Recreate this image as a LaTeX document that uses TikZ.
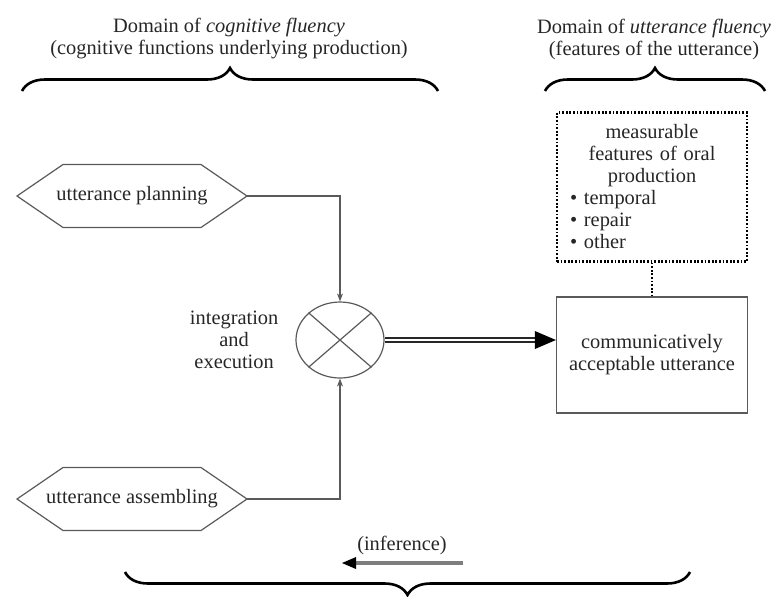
\documentclass[tikz,border=0pt]{standalone}
\usepackage{fontspec}
\setmainfont{Liberation Serif}
\newfontfamily\diagfont{Liberation Serif}
\usetikzlibrary{shapes.geometric, arrows.meta, positioning, decorations.pathreplacing, calc}

\definecolor{inkgray}{HTML}{262626}
\definecolor{linegray}{HTML}{5A5A5A}
\definecolor{shaftgray}{HTML}{7E7E7E}

% hexagonal outline around a named node
\newcommand{\hexframe}[1]{%
    \draw [linegray, line width=0.6pt]
        ($(#1.north west)+(23pt,0)$) -- ($(#1.north east)+(-23pt,0)$) -- (#1.east)
        -- ($(#1.south east)+(-23pt,0)$) -- ($(#1.south west)+(23pt,0)$) -- (#1.west) -- cycle;}

\begin{document}
\begin{tikzpicture}[
        x=0.5pt, y=-0.5pt,
        font=\diagfont\fontsize{10.2}{11}\selectfont,
        text=inkgray,
        hexa/.style={rectangle, minimum width=115pt, minimum height=31.5pt, inner sep=0pt, outer sep=0pt},
        plainbox/.style={rectangle, draw=linegray, line width=0.6pt, minimum width=95.5pt, minimum height=58pt, align=center},
        dotbox/.style={rectangle, draw=black, line width=1.1pt, dash pattern=on 0.9pt off 0.9pt, text width=82pt, minimum width=95pt, minimum height=74.5pt, inner sep=3pt},
        mixer/.style={ellipse, draw=linegray, line width=0.6pt, minimum width=44pt, minimum height=38pt, inner sep=0pt},
        feed/.style={draw=linegray, line width=0.6pt, -{Stealth[length=4pt, width=3pt]}},
        dotline/.style={draw=black, line width=1.1pt, dash pattern=on 0.9pt off 0.9pt},
        bracemark/.style={decorate, decoration={brace, amplitude=11.5pt}, line width=1.3pt, draw=black},
        heading/.style={align=center}
    ]
        \useasboundingbox (0,0) rectangle (772,596);

        % Headings
        \node [heading] (cogtext) at (229,39) {Domain of \textit{cognitive fluency}\\(cognitive functions underlying production)};
        \node [heading] (uttext) at (654,39) {Domain of \textit{utterance fluency}\\(features of the utterance)};

        \draw [bracemark] (22,91) -- (438,91);
        \draw [bracemark] (545,91) -- (765,91);

        % Cognitive side
        \node [hexa] (plan) at (132,196) {utterance planning};
        \node [hexa] (assem) at (132,499) {utterance assembling};
        \hexframe{plan}
        \hexframe{assem}
        \node [mixer] (ie) at (340,340) {};
        \node [align=center, left=5pt of ie] (ietext) {integration\\and\\execution};

        \draw [linegray, line width=0.6pt] (ie.north west) -- (ie.south east) (ie.north east) -- (ie.south west);

        \draw [feed] (plan.east) -| (ie.north);
        \draw [feed] (assem.east) -| (ie.south);

        % Utterance side
        \node [dotbox] (feat) at (652,187) {\centering measurable\\features of oral\\production\par
            \raggedright\textbullet\ temporal\\\textbullet\ repair\\\textbullet\ other\par};
        \node [plainbox] (cab) at (652,355) {communicatively\\acceptable utterance};

        \draw [dotline] (feat.south) -- (cab.north);

        \draw [draw=inkgray, line width=0.7pt, double=white, double distance=1.3pt, shorten >=9pt] (ie.east) -- (ie.east -| cab.west);
        \fill [black] (ie.east -| cab.west) -- ++(-21,-9) -- ++(0,18) -- cycle;

        % Inference
        \coordinate (infR) at (463,563);
        \coordinate (infL) at (342,563);
        \draw [shaftgray, line width=2.2pt, shorten >=5pt] (infR) -- (infL);
        \fill [black] (infL) -- ++(14,-6) -- ++(0,12) -- cycle;
        \node (inftext) at (402,545) {(inference)};

        \draw [bracemark] (690,572) -- (125,572);

    \end{tikzpicture}
\end{document}
